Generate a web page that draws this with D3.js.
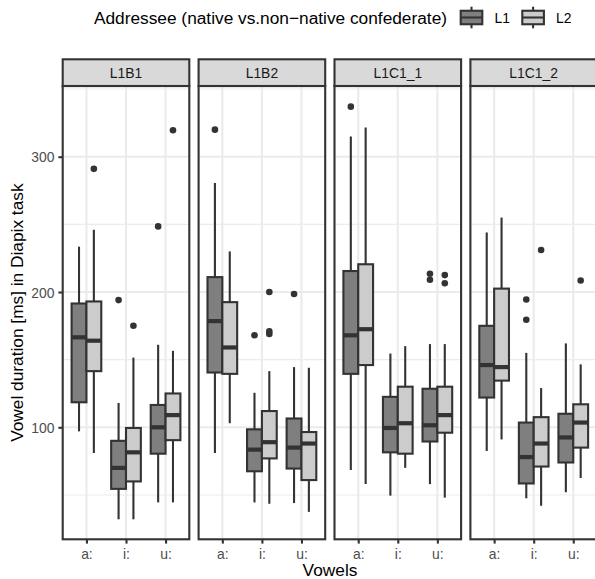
<!DOCTYPE html>

<head>
	<script src="https://d3js.org/d3.v7.min.js"></script>
	<style>
		body { margin: 0; }
		text { font-family: "Liberation Sans", Arial, Helvetica, sans-serif; }
	</style>
</head>

<body>
	<script type="text/javascript">

		var panels = ["L1B1", "L1B2", "L1C1_1", "L1C1_2"];
		var vowels = ["a:", "i:", "u:"];
		var groups = ["L1", "L2"];
		var yTicks = [100, 200, 300];
		var yMinor = [50, 150, 250, 350];
		var fills = {L1: "#7F7F7F", L2: "#CCCCCC"};

		// [vowel, group, lower whisker, Q1, median, Q3, upper whisker]
		var boxL1B1 = [
			["a:", "L1", 97, 118.5, 166.5, 191.5, 233.5],
			["a:", "L2", 81, 141.5, 164, 193, 246],
			["i:", "L1", 32, 54.5, 70, 90, 118],
			["i:", "L2", 32, 60, 81.5, 99.5, 151.5],
			["u:", "L1", 44.5, 80.5, 100, 116.5, 161],
			["u:", "L2", 44.5, 90.5, 109, 125, 156.5]
		];
		var boxL1B2 = [
			["a:", "L1", 81, 140.5, 178.5, 211, 280.5],
			["a:", "L2", 103, 139.5, 159, 192.5, 230],
			["i:", "L1", 44.5, 67.5, 83.5, 98.5, 125.5],
			["i:", "L2", 43.5, 77, 89, 112, 141.5],
			["u:", "L1", 44, 69.5, 85, 106.5, 144.5],
			["u:", "L2", 37.5, 61, 88, 96.5, 144]
		];
		var boxL1C1_1 = [
			["a:", "L1", 68.5, 139.5, 168, 215.5, 315],
			["a:", "L2", 58, 146, 172.5, 220.5, 321.5],
			["i:", "L1", 49.5, 81.5, 99.5, 122.5, 154.5],
			["i:", "L2", 70, 80.5, 103, 130, 160],
			["u:", "L1", 58, 89.5, 101.5, 128.5, 161.5],
			["u:", "L2", 48, 96, 109, 130, 161.5]
		];
		var boxL1C1_2 = [
			["a:", "L1", 82.5, 122, 146, 175, 244],
			["a:", "L2", 91, 134.5, 144.5, 202.5, 255],
			["i:", "L1", 47.5, 58.5, 78, 103.5, 155],
			["i:", "L2", 42, 71, 88, 107.5, 129],
			["u:", "L1", 52, 74, 92.5, 110, 162],
			["u:", "L2", 62.5, 85, 103.5, 117, 146.5]
		];

		// [vowel, group, value]
		var outL1B1 = [["a:", "L2", 291], ["i:", "L1", 194], ["i:", "L2", 175], ["u:", "L1", 248.5], ["u:", "L2", 319.5]];
		var outL1B2 = [["a:", "L1", 320], ["i:", "L1", 168], ["i:", "L2", 169], ["i:", "L2", 171], ["i:", "L2", 200], ["u:", "L1", 198.5]];
		var outL1C1_1 = [["a:", "L1", 337], ["u:", "L1", 209], ["u:", "L1", 213.5], ["u:", "L2", 206.5], ["u:", "L2", 212.5]];
		var outL1C1_2 = [["i:", "L1", 179.5], ["i:", "L1", 194.5], ["i:", "L2", 231], ["u:", "L2", 208.5]];

		var panelBoxes = [boxL1B1, boxL1B2, boxL1C1_1, boxL1C1_2];
		var panelOut = [outL1B1, outL1B2, outL1C1_1, outL1C1_2];

		var w = 595;
		var h = 579;
		var pLeft = 62.7, pw = 126.6, gap = 9.3;
		var stripTop = 59.3, pTop = 86, pBottom = 539.3;
		var lw = 2.1;

		var svg = d3.select("body")
				.append("svg")
				.attr("width", w)
				.attr("height", h);

		var yScale = d3.scaleLinear()
					.domain([17.22, 352.25])
					.range([pBottom, pTop]);

		var xScale = d3.scalePoint()
					.domain(vowels)
					.range([0, pw])
					.padding(0.6);

		var step = xScale.step();
		var dodge = d3.scaleBand()
					.domain(groups)
					.range([-0.375 * step, 0.375 * step]);
		var bw = dodge.bandwidth();

		panels.forEach(function(name, p) {
			var g = svg.append("g")
				.attr("transform", "translate(" + (pLeft + p * (pw + gap)) + ",0)");

			g.append("rect")
				.attr("x", 0).attr("y", pTop)
				.attr("width", pw).attr("height", pBottom - pTop)
				.attr("fill", "white");

			g.selectAll(".minor")
				.data(yMinor)
				.enter().append("line")
				.attr("x1", 0).attr("x2", pw)
				.attr("y1", function(d) { return yScale(d); })
				.attr("y2", function(d) { return yScale(d); })
				.attr("stroke", "#EBEBEB")
				.attr("stroke-width", 1.1);

			g.selectAll(".major")
				.data(yTicks)
				.enter().append("line")
				.attr("x1", 0).attr("x2", pw)
				.attr("y1", function(d) { return yScale(d); })
				.attr("y2", function(d) { return yScale(d); })
				.attr("stroke", "#EBEBEB")
				.attr("stroke-width", lw);

			g.selectAll(".vgrid")
				.data(vowels)
				.enter().append("line")
				.attr("x1", function(d) { return xScale(d); })
				.attr("x2", function(d) { return xScale(d); })
				.attr("y1", pTop).attr("y2", pBottom)
				.attr("stroke", "#EBEBEB")
				.attr("stroke-width", lw);

			var boxes = g.selectAll(".box")
				.data(panelBoxes[p])
				.enter().append("g")
				.attr("transform", function(d) {
					return "translate(" + (xScale(d[0]) + dodge(d[1])) + ",0)";
				});

			boxes.append("line")
				.attr("x1", bw / 2).attr("x2", bw / 2)
				.attr("y1", function(d) { return yScale(d[2]); })
				.attr("y2", function(d) { return yScale(d[6]); })
				.attr("stroke", "#333333")
				.attr("stroke-width", lw);

			boxes.append("rect")
				.attr("x", 0)
				.attr("width", bw)
				.attr("y", function(d) { return yScale(d[5]); })
				.attr("height", function(d) { return yScale(d[3]) - yScale(d[5]); })
				.attr("fill", function(d) { return fills[d[1]]; })
				.attr("stroke", "#333333")
				.attr("stroke-width", lw);

			boxes.append("line")
				.attr("x1", 0).attr("x2", bw)
				.attr("y1", function(d) { return yScale(d[4]); })
				.attr("y2", function(d) { return yScale(d[4]); })
				.attr("stroke", "#333333")
				.attr("stroke-width", lw * 2);

			g.selectAll(".out")
				.data(panelOut[p])
				.enter().append("circle")
				.attr("cx", function(d) { return xScale(d[0]) + dodge(d[1]) + bw / 2; })
				.attr("cy", function(d) { return yScale(d[2]); })
				.attr("r", 3.3)
				.attr("fill", "#333333");

			g.append("rect")
				.attr("x", 0).attr("y", pTop)
				.attr("width", pw).attr("height", pBottom - pTop)
				.attr("fill", "none")
				.attr("stroke", "#333333")
				.attr("stroke-width", lw);

			// strip
			g.append("rect")
				.attr("x", 0).attr("y", stripTop)
				.attr("width", pw).attr("height", pTop - stripTop)
				.attr("fill", "#D9D9D9")
				.attr("stroke", "#333333")
				.attr("stroke-width", lw);

			g.append("text")
				.attr("x", pw / 2).attr("y", 77.7)
				.attr("text-anchor", "middle")
				.attr("font-size", "13.9px")
				.attr("fill", "#1A1A1A")
				.text(name);

			// x axis
			var xAxis = g.append("g")
				.attr("transform", "translate(0," + pBottom + ")")
				.call(d3.axisBottom(xScale).tickSize(4.3).tickPadding(5));
			xAxis.select(".domain").remove();
			xAxis.selectAll("line").attr("stroke", "#333333").attr("stroke-width", lw);
			xAxis.selectAll("text")
				.attr("font-size", "13.9px")
				.attr("fill", "#4D4D4D")
				.attr("font-family", null)
				.attr("dy", null)
				.attr("y", 19.7);
		});

		// y axis
		var yAxis = svg.append("g")
			.attr("transform", "translate(" + pLeft + ",0)")
			.call(d3.axisLeft(yScale).tickValues(yTicks).tickSize(4.3).tickPadding(4));
		yAxis.select(".domain").remove();
		yAxis.selectAll("line").attr("stroke", "#333333").attr("stroke-width", lw);
		yAxis.selectAll("text")
			.attr("font-size", "13.9px")
			.attr("fill", "#4D4D4D")
			.attr("font-family", null)
			.attr("dy", "0.36em");

		svg.append("text")
			.attr("transform", "translate(22.5," + ((pTop + pBottom) / 2) + ") rotate(-90)")
			.attr("text-anchor", "middle")
			.attr("font-size", "17.3px")
			.text("Vowel duration [ms] in Diapix task");

		svg.append("text")
			.attr("x", 330).attr("y", 575.5)
			.attr("text-anchor", "middle")
			.attr("font-size", "17.3px")
			.text("Vowels");

		// legend
		var legend = svg.append("g");
		legend.append("text")
			.attr("x", 447).attr("y", 23.5)
			.attr("text-anchor", "end")
			.attr("font-size", "17.3px")
			.text("Addressee (native vs.non\u2212native confederate)");

		var keyX = [458, 519.6];
		var ks = 27, ky = 4;
		var keys = legend.selectAll(".key")
			.data(groups)
			.enter().append("g")
			.attr("transform", function(d, i) { return "translate(" + keyX[i] + "," + ky + ")"; });

		keys.append("line")
			.attr("x1", ks / 2).attr("x2", ks / 2)
			.attr("y1", ks * 0.1).attr("y2", ks * 0.9)
			.attr("stroke", "#333333")
			.attr("stroke-width", lw);
		keys.append("rect")
			.attr("x", ks * 0.1).attr("y", ks * 0.25)
			.attr("width", ks * 0.8).attr("height", ks * 0.5)
			.attr("fill", function(d) { return fills[d]; })
			.attr("stroke", "#333333")
			.attr("stroke-width", lw);
		keys.append("line")
			.attr("x1", ks * 0.1).attr("x2", ks * 0.9)
			.attr("y1", ks / 2).attr("y2", ks / 2)
			.attr("stroke", "#333333")
			.attr("stroke-width", lw);
		keys.append("text")
			.attr("x", ks + 9.5).attr("y", ks / 2 + 5)
			.attr("font-size", "13.9px")
			.attr("fill", "#000000")
			.text(function(d) { return d; });

	</script>
</body>
